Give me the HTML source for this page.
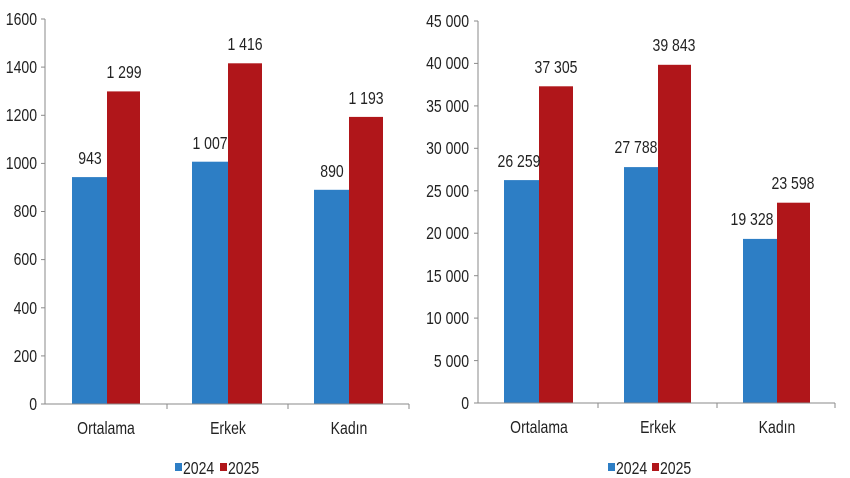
<!DOCTYPE html>
<html><head><meta charset="utf-8"><style>
html,body{margin:0;padding:0;background:#fff;}
svg{display:block;}
text{font-family:"Liberation Sans",Arial,sans-serif;fill:#222;}
</style></head><body>
<svg width="850" height="478" viewBox="0 0 850 478" xmlns="http://www.w3.org/2000/svg">
<defs><style>.t{font-size:18px;} .bl{fill:#2d7ec5;} .rd{fill:#b0161a;}</style></defs>
<g>
<rect class="bl" x="72" y="177.1" width="35" height="226.9"/>
<rect class="rd" x="107" y="91.4" width="33" height="312.6"/>
<rect class="bl" x="192" y="161.7" width="36" height="242.3"/>
<rect class="rd" x="228" y="63.3" width="34" height="340.7"/>
<rect class="bl" x="314" y="189.8" width="35" height="214.2"/>
<rect class="rd" x="349" y="116.9" width="34" height="287.1"/>
<line x1="45" y1="19" x2="45" y2="404" stroke="#8a8a8a" stroke-width="1"/>
<line x1="45" y1="404" x2="409" y2="404" stroke="#8a8a8a" stroke-width="1"/>
<g stroke="#8a8a8a">
<line x1="41" y1="404" x2="45" y2="404"/><line x1="41" y1="355.9" x2="45" y2="355.9"/><line x1="41" y1="307.8" x2="45" y2="307.8"/><line x1="41" y1="259.6" x2="45" y2="259.6"/><line x1="41" y1="211.5" x2="45" y2="211.5"/><line x1="41" y1="163.4" x2="45" y2="163.4"/><line x1="41" y1="115.3" x2="45" y2="115.3"/><line x1="41" y1="67.1" x2="45" y2="67.1"/><line x1="41" y1="19" x2="45" y2="19"/>
<line x1="167" y1="404" x2="167" y2="409"/><line x1="288" y1="404" x2="288" y2="409"/><line x1="409" y1="404" x2="409" y2="409"/>
</g>
<g class="t" text-anchor="end" transform="translate(37,0) scale(0.78,1)">
<text x="0" y="410">0</text><text x="0" y="362">200</text><text x="0" y="314">400</text><text x="0" y="265">600</text><text x="0" y="217">800</text><text x="0" y="169">1000</text><text x="0" y="121">1200</text><text x="0" y="73">1400</text><text x="0" y="25">1600</text>
</g>
<g class="t" text-anchor="middle">
<text transform="translate(106,434) scale(0.78,1)">Ortalama</text>
<text transform="translate(228,434) scale(0.78,1)">Erkek</text>
<text transform="translate(349,434) scale(0.78,1)">Kadın</text>
<text transform="translate(90,164) scale(0.78,1)">943</text>
<text transform="translate(124,78) scale(0.78,1)">1 299</text>
<text transform="translate(210,149) scale(0.78,1)">1 007</text>
<text transform="translate(245,50) scale(0.78,1)">1 416</text>
<text transform="translate(332,177) scale(0.78,1)">890</text>
<text transform="translate(366,104) scale(0.78,1)">1 193</text>
</g>
<rect class="bl" x="175" y="463" width="7" height="8"/>
<text class="t" transform="translate(183,474) scale(0.78,1)">2024</text>
<rect class="rd" x="220" y="463" width="7" height="8"/>
<text class="t" transform="translate(228,474) scale(0.78,1)">2025</text>
</g>
<g>
<rect class="bl" x="504" y="180.1" width="35" height="222.9"/>
<rect class="rd" x="539" y="86.3" width="34" height="316.7"/>
<rect class="bl" x="624" y="167.1" width="34" height="235.9"/>
<rect class="rd" x="658" y="64.8" width="33" height="338.2"/>
<rect class="bl" x="743" y="238.9" width="34" height="164.1"/>
<rect class="rd" x="777" y="202.7" width="33" height="200.3"/>
<line x1="478" y1="21" x2="478" y2="403" stroke="#8a8a8a"/>
<line x1="478" y1="403" x2="835" y2="403" stroke="#8a8a8a"/>
<g stroke="#8a8a8a">
<line x1="474" y1="403" x2="478" y2="403"/><line x1="474" y1="360.6" x2="478" y2="360.6"/><line x1="474" y1="318.1" x2="478" y2="318.1"/><line x1="474" y1="275.7" x2="478" y2="275.7"/><line x1="474" y1="233.2" x2="478" y2="233.2"/><line x1="474" y1="190.8" x2="478" y2="190.8"/><line x1="474" y1="148.3" x2="478" y2="148.3"/><line x1="474" y1="105.9" x2="478" y2="105.9"/><line x1="474" y1="63.4" x2="478" y2="63.4"/><line x1="474" y1="21" x2="478" y2="21"/>
<line x1="598" y1="403" x2="598" y2="408"/><line x1="717" y1="403" x2="717" y2="408"/><line x1="835" y1="403" x2="835" y2="408"/>
</g>
<g class="t" text-anchor="end" transform="translate(469,0) scale(0.78,1)">
<text x="0" y="409">0</text><text x="0" y="367">5 000</text><text x="0" y="324">10 000</text><text x="0" y="282">15 000</text><text x="0" y="239">20 000</text><text x="0" y="197">25 000</text><text x="0" y="154">30 000</text><text x="0" y="112">35 000</text><text x="0" y="69">40 000</text><text x="0" y="27">45 000</text>
</g>
<g class="t" text-anchor="middle">
<text transform="translate(539,433) scale(0.78,1)">Ortalama</text>
<text transform="translate(658,433) scale(0.78,1)">Erkek</text>
<text transform="translate(777,433) scale(0.78,1)">Kadın</text>
<text transform="translate(519,167) scale(0.78,1)">26 259</text>
<text transform="translate(556,73) scale(0.78,1)">37 305</text>
<text transform="translate(636,153) scale(0.78,1)">27 788</text>
<text transform="translate(674,51) scale(0.78,1)">39 843</text>
<text transform="translate(752,225) scale(0.78,1)">19 328</text>
<text transform="translate(793,189) scale(0.78,1)">23 598</text>
</g>
<rect class="bl" x="608" y="463" width="7" height="8"/>
<text class="t" transform="translate(616,474) scale(0.78,1)">2024</text>
<rect class="rd" x="652" y="463" width="7" height="8"/>
<text class="t" transform="translate(660,474) scale(0.78,1)">2025</text>
</g>
</svg>
</body></html>
